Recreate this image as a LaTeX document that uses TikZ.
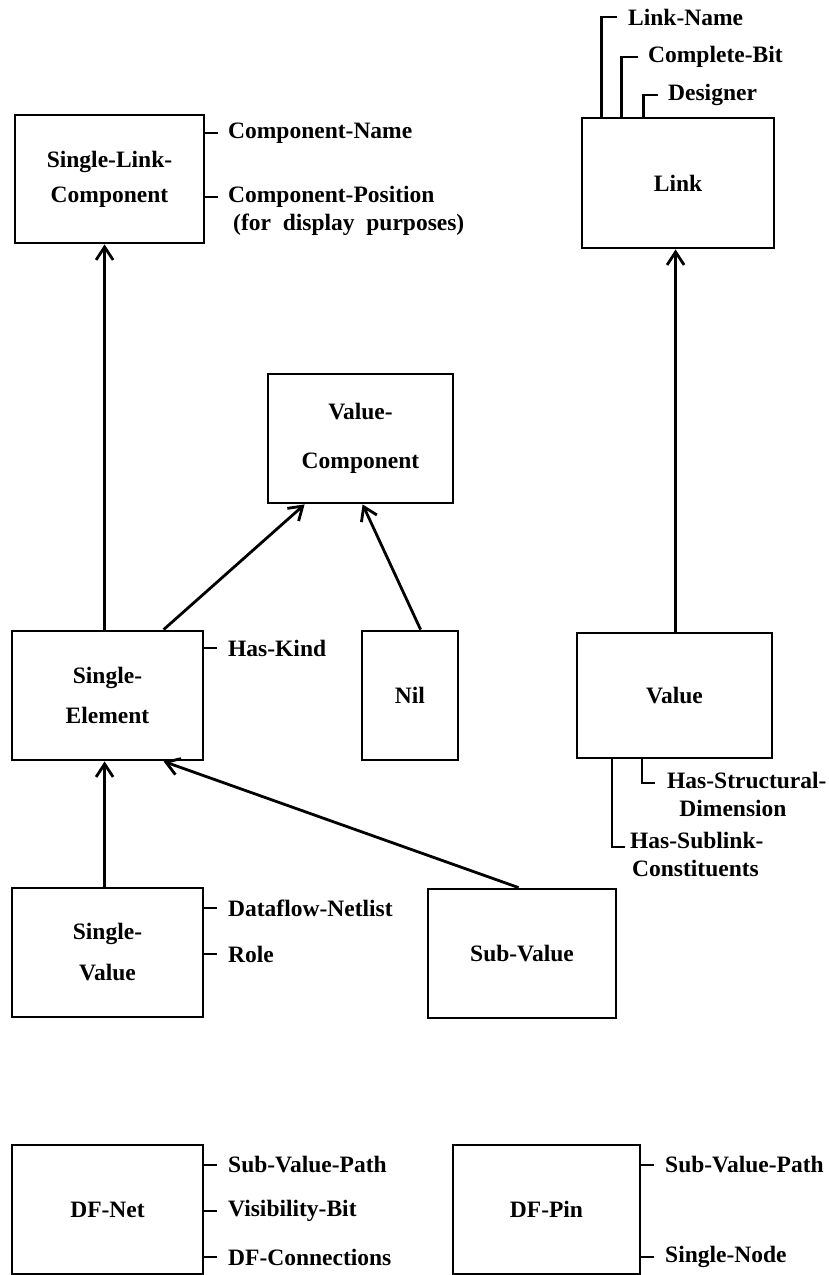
\documentclass[tikz,border=0pt]{standalone}
\usepackage{fontspec}
\setmainfont{Liberation Serif}
\usetikzlibrary{arrows.meta,calc}
\begin{document}
\begin{tikzpicture}[x=1pt,y=-1pt,
  box/.style={draw, line width=2.8pt, inner sep=0pt, align=center, font=\bfseries\fontsize{23.5}{37}\selectfont},
  lbl/.style={inner sep=0pt, font=\bfseries\fontsize{23.5}{28}\selectfont},
  arr/.style={line width=2.8pt, -{Straight Barb[length=13pt,width=17pt,line width=2.8pt]}},
  tick/.style={line width=2.8pt}]
\useasboundingbox (0,0) rectangle (829,1275);
% boxes
\node[box, minimum width=189pt, minimum height=128pt] (slc) at (109.5,179) {Single-Link-\\[-2pt]Component};
\node[box, minimum width=192pt, minimum height=130pt] (link) at (678,183) {Link};
\node[box, minimum width=185pt, minimum height=129pt] (vc) at (360.5,438.5) {Value-\\[12pt]Component};
\node[box, minimum width=191pt, minimum height=129pt] (se) at (107.5,695.5) {Single-\\[3pt]Element};
\node[box, minimum width=96pt, minimum height=129pt] (nil) at (410,695.5) {Nil};
\node[box, minimum width=195pt, minimum height=125pt] (val) at (674.5,695.5) {Value};
\node[box, minimum width=191pt, minimum height=129pt] (sv) at (107.5,952.5) {Single-\\[4pt]Value};
\node[box, minimum width=188pt, minimum height=129pt] (sub) at (522,953.5) {Sub-Value};
\node[box, minimum width=191pt, minimum height=129pt] (dfnet) at (107.5,1209.5) {DF-Net};
\node[box, minimum width=187pt, minimum height=129pt] (dfpin) at (546.5,1209.5) {DF-Pin};
% arrows
\draw[arr] ([xshift=94pt]se.north west) -- ([xshift=91pt]slc.south west);
\draw[arr] ([xshift=153pt]se.north west) -- ([xshift=38pt]vc.south west);
\draw[arr] ([xshift=60pt]nil.north west) -- ([xshift=96pt]vc.south west);
\draw[arr] ([xshift=100pt]val.north west) -- ([xshift=95pt]link.south west);
\draw[arr] ([xshift=94pt]sv.north west) -- ([xshift=94pt]se.south west);
\draw[arr] ([xshift=92pt]sub.north west) -- ([xshift=153pt]se.south west);
% attribute labels
\node[lbl, anchor=west] (cname) at (228,133) {Component-Name};
\node[lbl, anchor=west] (cpos) at (228,197) {Component-Position};
\node[lbl, anchor=west] (cpos2) at (233,225) {(for\ \ display\ \ purposes)};
\draw[tick] (slc.east |- cname.west) -- ++(13,0);
\draw[tick] (slc.east |- cpos.west) -- ++(13,0);
\node[lbl, anchor=west] (haskind) at (228,648) {Has-Kind};
\draw[tick] (se.east |- haskind.west) -- ++(13,0);
\node[lbl, anchor=west] (dfnl) at (228,908) {Dataflow-Netlist};
\node[lbl, anchor=west] (role) at (228,954) {Role};
\draw[tick] (sv.east |- dfnl.west) -- ++(13,0);
\draw[tick] (sv.east |- role.west) -- ++(13,0);
\node[lbl, anchor=west] (svp1) at (228,1165) {Sub-Value-Path};
\node[lbl, anchor=west] (visb) at (228,1211) {Visibility-Bit};
\node[lbl, anchor=west] (dfcon) at (228,1257) {DF-Connections};
\draw[tick] (dfnet.east |- svp1.west) -- ++(13,0);
\draw[tick] (dfnet.east |- visb.west) -- ++(13,0);
\draw[tick] (dfnet.east |- dfcon.west) -- ++(13,0);
\node[lbl, anchor=west] (svp2) at (665,1165) {Sub-Value-Path};
\node[lbl, anchor=west] (snode) at (665,1257) {Single-Node};
\draw[tick] (dfpin.east |- svp2.west) -- ++(13,0);
\draw[tick] (dfpin.east |- snode.west) -- ++(13,0);
% link hooks
\node[lbl, anchor=west] (lname) at (628,17) {Link-Name};
\node[lbl, anchor=west] (cbit) at (648,57) {Complete-Bit};
\node[lbl, anchor=west] (desg) at (668,95) {Designer};
\draw[tick] ([xshift=21pt]link.north west) |- ([xshift=-11pt]lname.west);
\draw[tick] ([xshift=41pt]link.north west) |- ([xshift=-10pt]cbit.west);
\draw[tick] ([xshift=63pt]link.north west) |- ([xshift=-10pt]desg.west);
% value hooks
\node[lbl, anchor=west] (hss) at (667,780) {Has-Structural-};
\node[lbl] (dim) at (733,808) {Dimension};
\node[lbl, anchor=west] (hsl) at (630,840) {Has-Sublink-};
\node[lbl, anchor=west] (cons) at (632,868) {Constituents};
\coordinate (hssend) at (655,783);
\coordinate (hslend) at (625,847);
\draw[tick] (val.south west -| 642,0) |- (hssend);
\draw[tick] (val.south west -| 612,0) |- (hslend);
\end{tikzpicture}
\end{document}
